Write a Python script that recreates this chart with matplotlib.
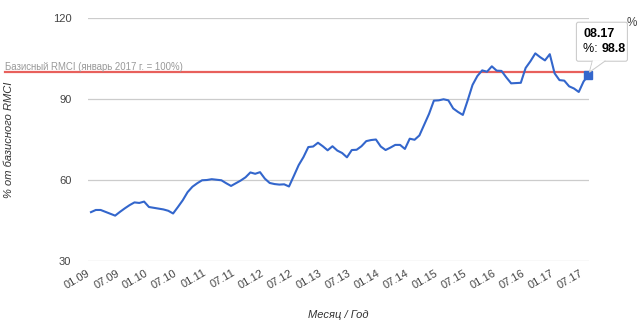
import matplotlib
matplotlib.use("Agg")
import matplotlib.pyplot as plt
from matplotlib.patches import Polygon, FancyBboxPatch
import numpy as np

plt.rcParams['font.family'] = ['Liberation Sans', 'DejaVu Sans']

# Monthly values, 01.2009 .. 08.2017 (% of base RMCI, Jan 2017 = 100)
values = [
    48.1, 48.9, 48.9, 48.2, 47.5, 46.8, 48.2, 49.5, 50.7, 51.7, 51.5, 52.0,   # 2009
    50.0, 49.7, 49.4, 49.1, 48.6, 47.6, 50.0, 52.5, 55.5, 57.5, 58.8, 59.9,   # 2010
    60.0, 60.3, 60.1, 59.9, 58.8, 57.8, 58.8, 59.8, 61.0, 62.8, 62.3, 62.9,   # 2011
    60.5, 58.9, 58.5, 58.3, 58.4, 57.6, 61.5, 65.5, 68.5, 72.2, 72.4, 73.8,   # 2012
    72.5, 71.0, 72.5, 70.9, 70.0, 68.4, 71.1, 71.2, 72.5, 74.4, 74.8, 75.0,   # 2013
    72.4, 71.1, 72.0, 73.0, 73.0, 71.5, 75.3, 74.9, 76.5, 80.5, 84.5, 89.4,   # 2014
    89.5, 89.9, 89.5, 86.5, 85.2, 84.1, 89.5, 95.2, 98.5, 100.6, 100.1, 102.1,  # 2015
    100.5, 100.4, 98.0, 95.8, 95.9, 96.0, 101.5, 104.0, 106.9, 105.5, 104.3, 106.6,  # 2016
    99.5, 97.0, 96.8, 94.7, 93.9, 92.6, 96.5, 98.8,                            # 2017
]
months = [f"{m:02d}.{y % 100:02d}" for y in range(2009, 2018) for m in range(1, 13)][:len(values)]
tick_labels = [lab for lab in months if lab[:2] in ("01", "07")]
yticks = [30, 60, 90, 120]
base_value = 100
base_label = "Базисный RMCI (январь 2017 г. = 100%)"
series_name = "%"

W, H = 639, 329
fig = plt.figure(figsize=(W / 100, H / 100), dpi=100)
ax = fig.add_axes([88 / W, 1 - 261 / H, (589 - 88) / W, (261 - 18) / H])

x = np.arange(len(values))
line_color = "#3366cc"
ax.plot(x, values, color=line_color, lw=1.5, solid_joinstyle="round", zorder=3)
ax.plot(x[-1], values[-1], marker="s", ms=5.5, color=line_color, zorder=4, clip_on=False)

ax.set_xlim(-0.62, len(values) - 1 + 0.12)
ax.set_ylim(30, 120)
ax.set_yticks(yticks)
ax.set_yticklabels([str(v) for v in yticks])
tick_pos = [months.index(t) for t in tick_labels]
ax.set_xticks(tick_pos)
ax.set_xticklabels(tick_labels, rotation=30, ha="right", rotation_mode="anchor")
ax.tick_params(axis="both", length=0, labelsize=8, labelcolor="#444444")
ax.tick_params(axis="x", pad=5)
ax.tick_params(axis="y", pad=12)
for lab in ax.get_xticklabels():
    lab.set_x(lab.get_position()[0])
import matplotlib.transforms as mtrans
offset = mtrans.ScaledTranslation(-4 / 100, 0, fig.dpi_scale_trans)
for lab in ax.get_xticklabels():
    lab.set_transform(lab.get_transform() + offset)
ax.grid(axis="y", color="#cccccc", lw=0.9)
ax.set_axisbelow(True)
for s in ax.spines.values():
    s.set_visible(False)

# base line spanning from the left edge of the figure
ax.axhline(base_value, xmin=-83 / 501, xmax=1.0, color="#e8605c", lw=1.6, clip_on=False, zorder=2)
ax.text(-83 / 501, base_value, base_label, transform=ax.get_yaxis_transform(),
        fontsize=6.9, color="#999999", va="bottom", ha="left")

ax.set_ylabel("% от базисного RMCI", fontsize=8, style="italic", color="#333333", labelpad=28)
ax.set_xlabel("Месяц / Год", fontsize=8, style="italic", color="#333333", labelpad=14)

# legend label (partly hidden by tooltip)
fig.text(627 / W, 1 - 23 / H, series_name, fontsize=8.5, color="#444444", va="center", ha="left")

# tooltip anchored to last point
fig.canvas.draw()
px, py = ax.transData.transform((x[-1], values[-1]))
bx0, bx1 = px - 12, px + 39
by0, by1 = py + 14, py + 53
box = FancyBboxPatch((bx0, by0), bx1 - bx0, by1 - by0, boxstyle="round,pad=0,rounding_size=2",
                     transform=None, facecolor="white", edgecolor="#cccccc", lw=0.8, zorder=10)
fig.patches.append(box)
tail = Polygon([[px + 4, by0 + 0.5], [px + 1, py + 3], [px + 17, by0 + 0.5]], closed=False,
               transform=None, facecolor="white", edgecolor="#cccccc", lw=0.8, zorder=11)
fig.patches.append(tail)
cover = Polygon([[px + 4.6, by0 + 1], [px + 2, py + 5], [px + 16.4, by0 + 1]], closed=True,
                transform=None, facecolor="white", edgecolor="none", zorder=12)
fig.patches.append(cover)
fig.text((bx0 + 7) / W, (by1 - 12) / H, months[-1], fontsize=9, fontweight="bold",
         color="#000000", va="center", ha="left", zorder=13)
t1 = fig.text((bx0 + 7) / W, (by1 - 27) / H, f"{series_name}: ", fontsize=9,
              color="#000000", va="center", ha="left", zorder=13)
fig.canvas.draw()
bb = t1.get_window_extent()
fig.text(bb.x1 / W, (by1 - 27) / H, f"{values[-1]:.1f}", fontsize=9, fontweight="bold",
         color="#000000", va="center", ha="left", zorder=13)

fig.savefig("out.png", dpi=100)
